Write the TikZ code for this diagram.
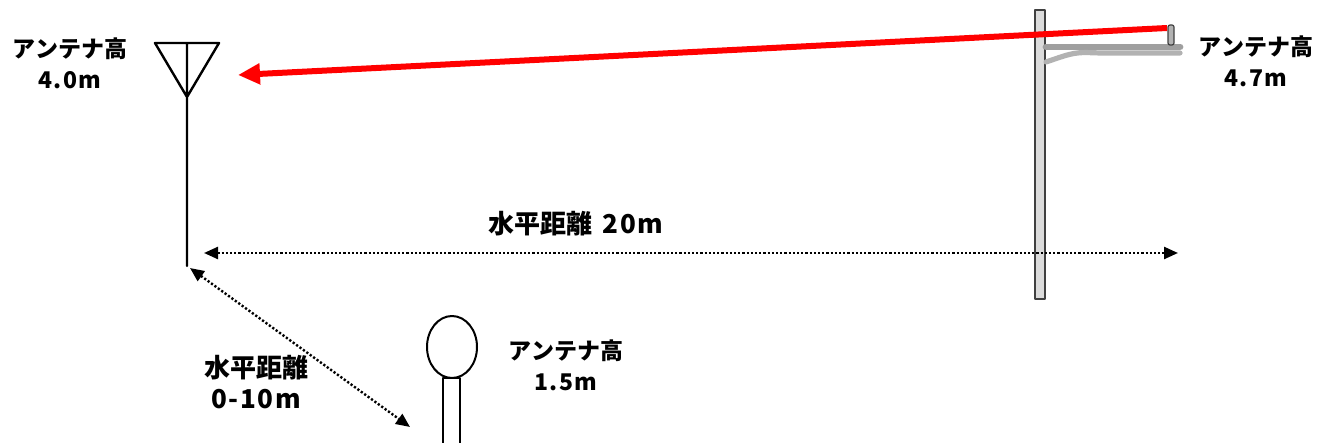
\documentclass[tikz,border=0pt]{standalone}
\usepackage{fontspec}
\setmainfont{Noto Sans CJK JP}
\newfontfamily\hw{Noto Sans CJK JP}[LetterSpace=6]
\usetikzlibrary{arrows.meta}
\begin{document}
\begin{tikzpicture}[x=0.5pt,y=-0.5pt, line join=round, line cap=round,font=\bfseries\fontsize{11.5}{15.5}\selectfont,>={Triangle[length=7pt,width=6pt]},
	lbl/.style={align=center,inner sep=0pt},
	big/.style={font=\bfseries\fontsize{13}{15.5}\selectfont},
	dist/.style={<->,line width=1.2pt,line cap=butt,dash pattern=on 1.1pt off 1pt}]
	\useasboundingbox (0,0) rectangle (1318,443);
	% receiving antenna
	\draw[line width=1.2pt] (155,43)--(219,43)--(187,97)--cycle (187,43)--(187,266) coordinate (foot);
	\node[lbl] (htx) at (70,63) {アンテナ高\\{\hw 4.0m}};
	% pole
	\draw[black!75,fill=gray!28,line width=0.8pt] (1035,10) rectangle (1045,299);
	\draw[gray!75,line width=3.4pt,line cap=round] (1046,47)--(1180,47);
	\draw[gray!60,line width=2.6pt] (1046,62) .. controls (1075,52) .. (1100,53)--(1180,53);
	\draw[gray!50!black,fill=gray!60,rounded corners=1pt,line width=0.6pt] (1168,25) rectangle (1174,45);
	\coordinate (tx) at (1167,28);
	\coordinate (rxtip) at (238,75);
	\node[lbl] (hrx) at (1256,61) {アンテナ高\\{\hw 4.7m}};
	% signal
	\draw[-{Triangle[length=11pt,width=10pt]},red,line width=3pt,line cap=butt] (tx)--(rxtip);
	% distances
	\coordinate (pl) at (204,253);
	\coordinate (pr) at (1178,253);
	\draw[dist] (pl)--(pr);
	\node[lbl,big] (d20) at (576,224) {水平距離\hspace{0.4em}{\hw 20m}};
	\coordinate (dtop) at (190,268);
	\coordinate (dbot) at (410,427);
	\draw[dist] (dtop)--(dbot);
	\node[lbl,big] (d10) at (256,382) {水平距離\\{\hw 0-10m}};
	% handheld
	\draw[line width=1pt] (452,347) ellipse (25 and 31);
	\draw[line width=1pt] (443,378) rectangle (460,445);
	\node[lbl] (hmob) at (566,365) {アンテナ高\\{\hw 1.5m}};
\end{tikzpicture}
\end{document}
